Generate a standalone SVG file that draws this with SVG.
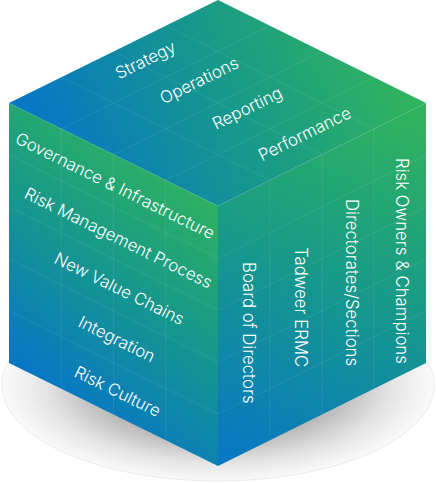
<svg xmlns="http://www.w3.org/2000/svg" width="436" height="483" viewBox="0 0 436 483">
  <defs>
    <radialGradient id="shadowGrad" cx="218" cy="385" r="216" gradientUnits="userSpaceOnUse" gradientTransform="translate(218 385) scale(1 0.45) translate(-218 -385)">
      <stop offset="0" stop-color="#8e8e8e"/>
      <stop offset="0.55" stop-color="#b6b6b6"/>
      <stop offset="0.8" stop-color="#e4e4e4"/>
      <stop offset="1" stop-color="#fbfbfb"/>
    </radialGradient>
    <linearGradient id="topGrad" gradientUnits="userSpaceOnUse" x1="60" y1="170" x2="380" y2="30">
      <stop offset="0" stop-color="#0877c4"/>
      <stop offset="0.5" stop-color="#16978d"/>
      <stop offset="1" stop-color="#30b35e"/>
    </linearGradient>
    <linearGradient id="leftGrad" gradientUnits="userSpaceOnUse" x1="40" y1="380" x2="200" y2="180">
      <stop offset="0" stop-color="#0877c4"/>
      <stop offset="0.5" stop-color="#16978d"/>
      <stop offset="1" stop-color="#30b35e"/>
    </linearGradient>
    <linearGradient id="rightGrad" gradientUnits="userSpaceOnUse" x1="250" y1="470" x2="400" y2="110">
      <stop offset="0" stop-color="#0877c4"/>
      <stop offset="0.5" stop-color="#16978d"/>
      <stop offset="1" stop-color="#30b35e"/>
    </linearGradient>
  </defs>
  <style>
    .grid { stroke: #ffffff; stroke-opacity: 0.08; stroke-width: 1; fill: none; }
    .lbl { font-family: Inter, Roboto, "Liberation Sans", sans-serif; font-size: 16.8px; font-weight: 300; fill: #ffffff; }
  </style>

  <g id="shadow">
    <ellipse cx="218" cy="385" rx="216" ry="96" fill="url(#shadowGrad)" stroke="#e2e2e2" stroke-width="1" stroke-dasharray="2 1"/>
  </g>

  <g id="top-face">
    <polygon points="218,0 426,103 218,206 9,103" fill="url(#topGrad)"/>
    <g class="grid">
      <line x1="61.25" y1="77.25" x2="270.25" y2="180.25"/>
      <line x1="113.5" y1="51.5" x2="322.5" y2="154.5"/>
      <line x1="165.75" y1="25.75" x2="374.75" y2="128.75"/>
      <line x1="61.25" y1="128.75" x2="270" y2="25.75"/>
      <line x1="113.5" y1="154.5" x2="322" y2="51.5"/>
      <line x1="165.75" y1="180.25" x2="374" y2="77.25"/>
    </g>
    <text class="lbl" transform="translate(119 79.5) rotate(-26.24)">Strategy</text>
    <text class="lbl" transform="translate(163.5 104.5) rotate(-26.24)">Operations</text>
    <text class="lbl" transform="translate(216 130) rotate(-26.24)">Reporting</text>
    <text class="lbl" transform="translate(262 161.5) rotate(-26.24)">Performance</text>
  </g>

  <g id="left-face">
    <polygon points="9,103 218,206 218,466 9,363" fill="url(#leftGrad)"/>
    <g class="grid">
      <line x1="61.25" y1="128.75" x2="61.25" y2="388.75"/>
      <line x1="113.5" y1="154.5" x2="113.5" y2="414.5"/>
      <line x1="165.75" y1="180.25" x2="165.75" y2="440.25"/>
      <line x1="9" y1="155" x2="218" y2="258"/>
      <line x1="9" y1="207" x2="218" y2="310"/>
      <line x1="9" y1="259" x2="218" y2="362"/>
      <line x1="9" y1="311" x2="218" y2="414"/>
    </g>
    <text class="lbl" transform="translate(14 142.5) rotate(26.24)">Governance &amp; Infrastructure</text>
    <text class="lbl" transform="translate(23 197.5) rotate(26.24)">Risk Management Process</text>
    <text class="lbl" transform="translate(53 262.5) rotate(26.24)">New Value Chains</text>
    <text class="lbl" transform="translate(77 326) rotate(26.24)">Integration</text>
    <text class="lbl" transform="translate(73 376) rotate(26.24)">Risk Culture</text>
  </g>

  <g id="right-face">
    <polygon points="218,206 426,103 426,363 218,466" fill="url(#rightGrad)"/>
    <g class="grid">
      <line x1="270" y1="180.25" x2="270" y2="440.25"/>
      <line x1="322" y1="154.5" x2="322" y2="414.5"/>
      <line x1="374" y1="128.75" x2="374" y2="388.75"/>
      <line x1="218" y1="258" x2="426" y2="155"/>
      <line x1="218" y1="310" x2="426" y2="207"/>
      <line x1="218" y1="362" x2="426" y2="259"/>
      <line x1="218" y1="414" x2="426" y2="311"/>
    </g>
    <text class="lbl" transform="translate(243 262) rotate(90)">Board of Directors</text>
    <text class="lbl" transform="translate(295 247) rotate(90)">Tadweer ERMC</text>
    <text class="lbl" transform="translate(346 199) rotate(90)">Directorates/Sections</text>
    <text class="lbl" transform="translate(396 158) rotate(90)">Risk Owners &amp; Champions</text>
  </g>
</svg>
